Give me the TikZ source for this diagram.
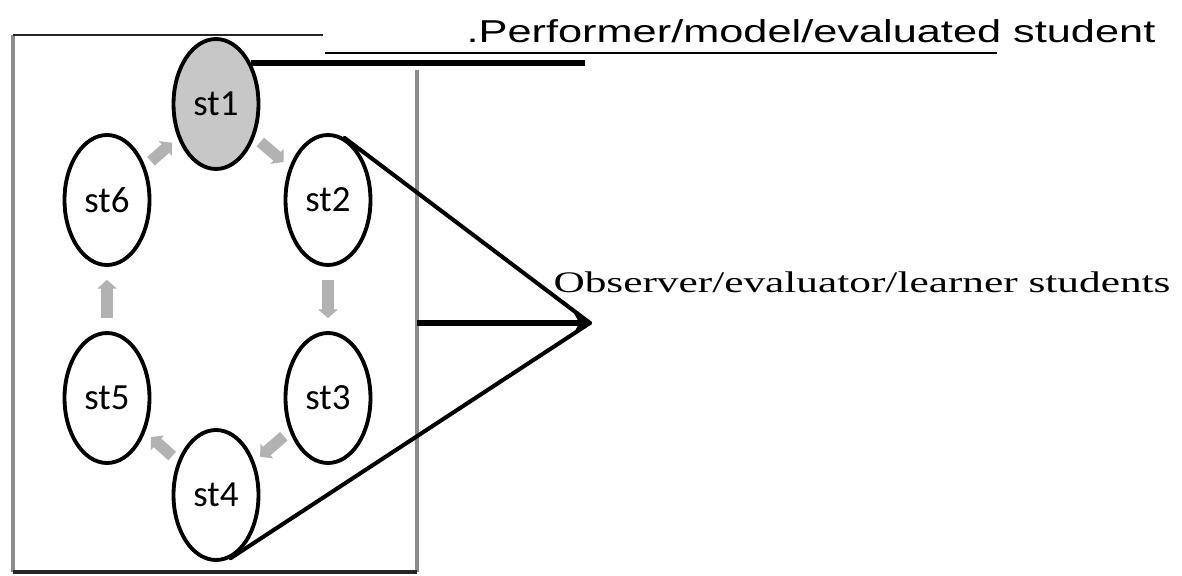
\documentclass[tikz,border=0pt]{standalone}
\usepackage{graphicx}
\usepackage{fontspec}
\setmainfont{Liberation Serif}
\newfontfamily\stfont{Carlito}
\newfontfamily\perffont{Liberation Sans}
\usetikzlibrary{arrows.meta,shapes.geometric}

\tikzset{
  stnode/.style={ellipse, draw, line width=2.2pt, minimum width=1.7cm,
    minimum height=2.6cm, inner sep=0pt, font=\stfont\fontsize{21}{21}\selectfont},
  passarr/.style={-{Triangle[length=5pt,width=11pt]}, line width=6.5pt, black!30,
    shorten >=#1, shorten <=#1},
  linkline/.style={line width=2.3pt, line cap=round}
}

\begin{document}
\begin{tikzpicture}[x=0.02cm, y=-0.02cm]

\useasboundingbox (0,0) rectangle (1182,575);

% Frame
\draw[black!45, line width=1.8pt] (13,35) -- (13,572);
\draw[black!45, line width=1.8pt] (417,70) -- (417,572);
\draw[black!85, line width=1.4pt] (13,35) -- (323,35);
\draw[black!85, line width=1.8pt] (13,572) -- (417,572);

% Students
\node[stnode, fill=black!22] (st1) at (216,104) {st1};
\node[stnode] (st2) at (328,200) {st2};
\node[stnode] (st3) at (328,398) {st3};
\node[stnode] (st4) at (216,495) {st4};
\node[stnode] (st5) at (107,398) {st5};
\node[stnode] (st6) at (107,200) {st6};

% Passing round the circle
\draw[passarr=0.15cm] (st1) -- (st2);
\draw[passarr=0.26cm] (st2) -- (st3);
\draw[passarr=0.15cm] (st3) -- (st4);
\draw[passarr=0.15cm] (st4) -- (st5);
\draw[passarr=0.26cm] (st5) -- (st6);
\draw[passarr=0.15cm] (st6) -- (st1);

% Performer label
\node (perf) at (811,31)
  {\perffont\fontsize{18}{18}\selectfont\scalebox{1.37}[1]{.Performer/model/evaluated student}};
\coordinate (ulstart) at (325,53);
\coordinate (ulend) at (997,53);
\draw[line width=1.3pt] (ulstart) -- (ulend);
\coordinate (perfend) at (585,63);
\draw[line width=3.6pt] (perfend -| st1.49) -- (perfend);

% Observer label
\node (obs) at (862,282)
  {\fontsize{17}{17}\selectfont\scalebox{1.45}[1]{Observer/evaluator/learner students}};
\coordinate (tip) at (590,323);
\coordinate (redge) at (417,323);
\draw[linkline] (st2.75) -- (tip);
\draw[linkline] (st4.-77) -- (tip);
\draw[line width=3.4pt, -{Stealth[length=9pt,width=11pt]}] (redge) -- (tip);

\end{tikzpicture}
\end{document}
